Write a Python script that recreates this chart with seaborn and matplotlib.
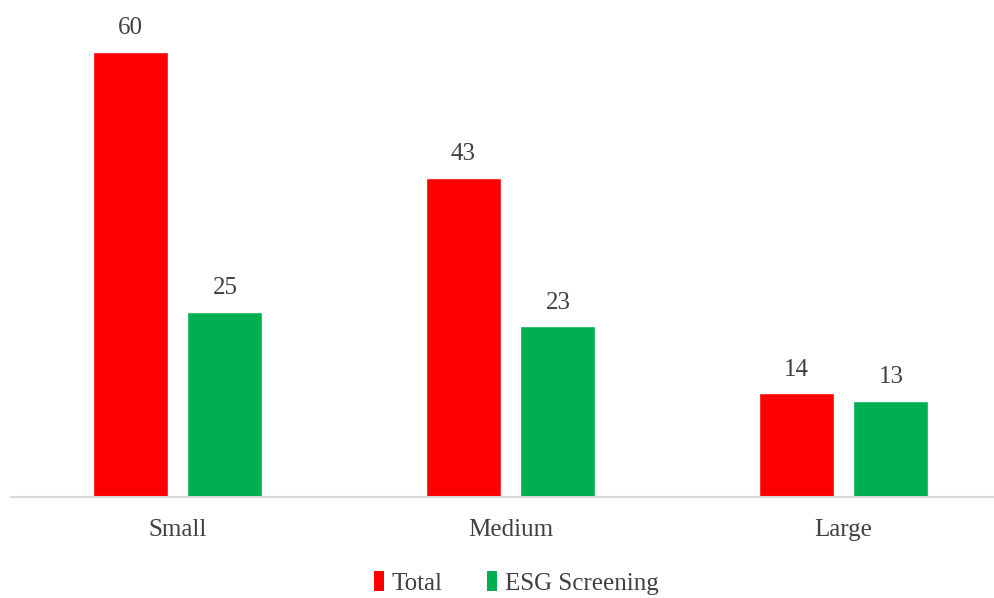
import matplotlib
matplotlib.use("Agg")
import matplotlib.pyplot as plt
import seaborn as sns
import pandas as pd
from matplotlib.patches import Patch

categories = ["Small", "Medium", "Large"]
series = ["Total", "ESG Screening"]
total = [60, 43, 14]
esg = [25, 23, 13]
colors = ["#FF0000", "#00B050"]

df = pd.DataFrame({
    "size": categories * 2,
    "series": [series[0]] * 3 + [series[1]] * 3,
    "value": total + esg,
})

sns.set_theme(style="white")
plt.rcParams["font.family"] = ["Liberation Serif", "DejaVu Serif"]
text_color = "#404040"

fig = plt.figure(figsize=(9.94, 5.98), dpi=100)
ax = fig.add_axes([11 / 994, 1 - 497 / 598, 983 / 994, 487 / 598])

sns.barplot(data=df, x="size", y="value", hue="series", palette=colors,
            width=0.57, gap=0.21, ax=ax, legend=False, saturation=1)

for cont in ax.containers:
    ax.bar_label(cont, fmt="%d", padding=9, fontsize=18, color=text_color)

ax.set_xlim(-0.5, -0.5 + 983 / 333)
ax.set_ylim(0, 487 / 7.42)
ax.set_xlabel("")
ax.set_ylabel("")
ax.set_yticks([])
ax.tick_params(axis="x", length=0, pad=16, labelsize=18, labelcolor=text_color)
for s in ["top", "right", "left"]:
    ax.spines[s].set_visible(False)
ax.spines["bottom"].set_color("#D9D9D9")
ax.spines["bottom"].set_linewidth(1.5)

handles = [Patch(facecolor=c, edgecolor="none") for c in colors]
fig.legend(handles, series, loc="center", bbox_to_anchor=(516 / 994, 1 - 583 / 598),
           ncol=2, frameon=False, fontsize=18, labelcolor=text_color,
           handlelength=0.4, handleheight=0.8, handletextpad=0.3, columnspacing=1.8)

fig.savefig("out.png", dpi=100)
